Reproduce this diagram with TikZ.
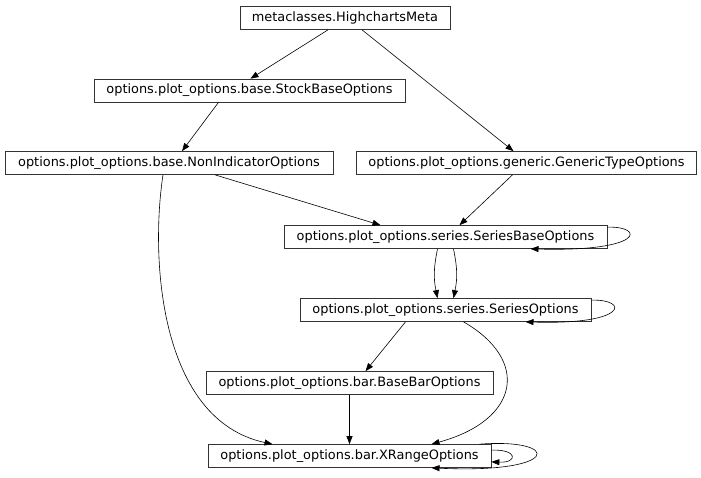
\documentclass[tikz,border=0pt]{standalone}
\usepackage{fontspec}
\setmainfont{DejaVu Sans}
\usetikzlibrary{arrows.meta}
\begin{document}
\begin{tikzpicture}[x=1pt,y=-1pt,
  cls/.style={draw=black!80, line width=0.7pt, font=\fontsize{12.9}{15}\selectfont, inner sep=0pt, minimum height=23pt, anchor=center},
  edge/.style={draw=black, line width=0.6pt, -{Triangle[length=8pt,width=6pt]}}]
\useasboundingbox (0,0) rectangle (701,477);
\node[cls, minimum width=210pt] (meta) at (345,18) {metaclasses.HighchartsMeta};
\node[cls, minimum width=311pt] (stock) at (249.5,90.5) {options.plot\_options.base.StockBaseOptions};
\node[cls, minimum width=328pt] (nonind) at (169,163) {options.plot\_options.base.NonIndicatorOptions};
\node[cls, minimum width=340pt] (generic) at (526.5,163) {options.plot\_options.generic.GenericTypeOptions};
\node[cls, minimum width=323pt] (sbase) at (445.5,237) {options.plot\_options.series.SeriesBaseOptions};
\node[cls, minimum width=291pt] (sopt) at (445.5,310) {options.plot\_options.series.SeriesOptions};
\node[cls, minimum width=287pt] (bbar) at (349.5,383) {options.plot\_options.bar.BaseBarOptions};
\node[cls, minimum width=283pt] (xr) at (349.5,456) {options.plot\_options.bar.XRangeOptions};

\draw[edge] ([xshift=-17pt]meta.south) -- ([xshift=1pt]stock.north);
\draw[edge] ([xshift=17pt]meta.south) -- ([xshift=-13pt]generic.north);
\draw[edge] ([xshift=-31pt]stock.south) -- ([xshift=13pt]nonind.north);
\draw[edge] ([xshift=46pt]nonind.south) -- ([xshift=-65pt]sbase.north);
\draw[edge] ([xshift=-14pt]generic.south) -- ([xshift=14pt]sbase.north);
\draw[edge] ([xshift=-8pt]sbase.south) .. controls +(-4,20) and +(-4,-20) .. ([xshift=-8pt]sopt.north);
\draw[edge] ([xshift=8pt]sbase.south) .. controls +(4,20) and +(4,-20) .. ([xshift=8pt]sopt.north);
\draw[edge] ([xshift=-6pt]nonind.south) .. controls (150,260) and (160,420) .. ([xshift=-77pt]xr.north);
\draw[edge] ([xshift=-40pt]sopt.south) -- ([xshift=16pt]bbar.north);
\draw[edge] ([xshift=18pt]sopt.south) .. controls (530,360) and (520,420) .. ([xshift=82pt]xr.north);
\draw[edge] (bbar.south) -- (xr.north);
% self loops
\draw[edge] ([yshift=-2pt]sbase.north east) .. controls (645,226) and (645,252) .. ([xshift=85pt]sbase.south);
\draw[edge] ([yshift=-2pt]sopt.north east) .. controls (629,299) and (629,325) .. ([xshift=80pt]sopt.south);
\draw[edge] ([yshift=-6pt]xr.north east) .. controls (518,449) and (518,463) .. ([yshift=6pt]xr.south east);
\draw[edge] ([xshift=130pt]xr.north) .. controls (562,438) and (562,474) .. ([xshift=82pt]xr.south);
\end{tikzpicture}
\end{document}
